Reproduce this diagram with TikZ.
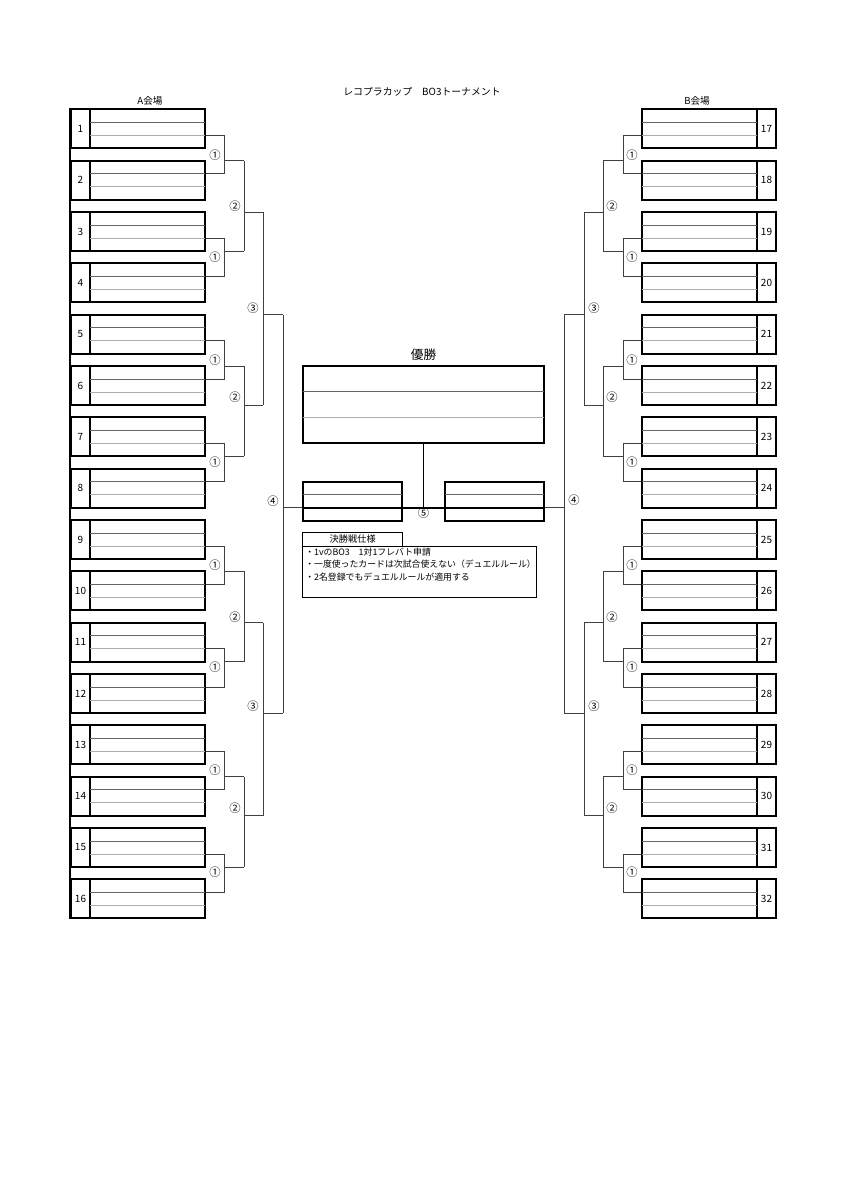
\documentclass[tikz,border=0pt]{standalone}
\usepackage{fontspec}
\newfontfamily\jp{Noto Sans CJK JP}
\newcommand\jpfs[1]{\jp\fontsize{#1}{#1}\selectfont}
\begin{document}
\begin{tikzpicture}[x=0.75pt,y=-0.75pt,
  boxline/.style={draw=black,line width=1.4pt},
  numcell/.style={boxline,rectangle,minimum width=14.25pt,minimum height=29.25pt,inner sep=0pt,font=\jpfs{7.5}},
  namecell/.style={boxline,rectangle,minimum width=86.25pt,minimum height=29.25pt,inner sep=0pt},
  divA/.style={draw=black!60,line width=0.6pt},
  divB/.style={draw=black!32,line width=0.6pt},
  wire/.style={draw=black!75,line width=0.6pt},
  rlabel/.style={inner sep=0pt,font=\jpfs{8.5}},
  ttl/.style={inner sep=0pt,font=\jpfs{7.4}},
  note/.style={inner sep=0pt,anchor=west,font=\jpfs{6.65}}]
\useasboundingbox (0,0) rectangle (848,1200);

% titles
\node[ttl] (title) at (422,92) {レコプラカップ　BO3トーナメント};
\node[ttl,font=\jpfs{7.2}] (venueA) at (150,101) {A会場};
\node[ttl,font=\jpfs{7.2}] (venueB) at (697,101) {B会場};

% entry boxes
\foreach \i in {1,...,16}{
  \pgfmathsetmacro\T{109.3+(\i-1)*51.333}
  \node[numcell] (Ln\i) at (80.5,\T+19.5) {\i};
  \node[namecell] (La\i) at (147.5,\T+19.5) {};
  \draw[divA] (90,\T+13) -- (205,\T+13);
  \draw[divB] (90,\T+26) -- (205,\T+26);
}
\foreach \i in {17,...,32}{
  \pgfmathsetmacro\T{109.3+(\i-17)*51.333}
  \node[numcell] (Rn\i) at (766.5,\T+19.5) {\i};
  \node[namecell] (Ra\i) at (699.5,\T+19.5) {};
  \draw[divA] (642,\T+13) -- (757,\T+13);
  \draw[divB] (642,\T+26) -- (757,\T+26);
}
\draw[boxline] (Ln1.north west) -- (Ln16.south west);

% round 1
\foreach \k in {1,...,8}{
  \pgfmathtruncatemacro\a{2*\k-1}
  \pgfmathtruncatemacro\b{2*\k}
  \pgfmathtruncatemacro\ra{2*\k+15}
  \pgfmathtruncatemacro\rb{2*\k+16}
  \pgfmathsetmacro\Ta{109.3+(2*\k-2)*51.333}
  \pgfmathsetmacro\Tb{\Ta+51.333}
  \pgfmathsetmacro\yo{ifthenelse(isodd(\k),\Tb,\Ta+39)}
  \coordinate (P1L\k) at (244,\yo);
  \coordinate (P1R\k) at (603,\yo);
  \draw[wire] ([yshift=-4.875pt]La\a.east) -- (224,\Ta+26) -- (224,\Tb+13) -- ([yshift=4.875pt]La\b.east);
  \draw[wire] (224,\yo) -- (P1L\k);
  \draw[wire] ([yshift=-4.875pt]Ra\ra.west) -- (623,\Ta+26) -- (623,\Tb+13) -- ([yshift=4.875pt]Ra\rb.west);
  \draw[wire] (623,\yo) -- (P1R\k);
}
% round 2
\foreach \m in {1,...,4}{
  \pgfmathtruncatemacro\p{2*\m-1}
  \pgfmathtruncatemacro\q{2*\m}
  \pgfmathsetmacro\yo{ifthenelse(isodd(\m),109.3+(4*\m-2)*51.333,109.3+(4*\m-3)*51.333+39)}
  \coordinate (P2L\m) at (263,\yo);
  \coordinate (P2R\m) at (584,\yo);
  \draw[wire] (P1L\p) -- (P1L\q);
  \draw[wire] (P1L\p |- P2L\m) -- (P2L\m);
  \draw[wire] (P1R\p) -- (P1R\q);
  \draw[wire] (P1R\p |- P2R\m) -- (P2R\m);
}
% round 3
\coordinate (P3L1) at (283,314.63);
\coordinate (P3L2) at (283,713.0);
\coordinate (P3R1) at (564,314.63);
\coordinate (P3R2) at (564,713.0);
\draw[wire] (P2L1) -- (P2L2);
\draw[wire] (P2L1 |- P3L1) -- (P3L1);
\draw[wire] (P2L3) -- (P2L4);
\draw[wire] (P2L3 |- P3L2) -- (P3L2);
\draw[wire] (P2R1) -- (P2R2);
\draw[wire] (P2R1 |- P3R1) -- (P3R1);
\draw[wire] (P2R3) -- (P2R4);
\draw[wire] (P2R3 |- P3R2) -- (P3R2);
% round 4
\draw[wire] (P3L1) -- (P3L2);
\draw[wire] (P3R1) -- (P3R2);
\coordinate (F4L) at (283,507.63);
\coordinate (F4R) at (564,507.63);

% final area
\node[ttl,font=\jpfs{9.5}] (wintitle) at (423.5,355) {優勝};
\node[boxline,rectangle,minimum width=181.2pt,minimum height=57.75pt,inner sep=0pt] (W) at (423.5,404.2) {};
\draw[divA] (302.7,391.5) -- (544.3,391.5);
\draw[divB] (302.7,417.2) -- (544.3,417.2);
\node[boxline,rectangle,minimum width=74.25pt,minimum height=29.25pt,inner sep=0pt] (SFL) at (352.2,501.13) {};
\node[boxline,rectangle,minimum width=74.25pt,minimum height=29.25pt,inner sep=0pt] (SFR) at (494.8,501.13) {};
\draw[divA] (302.7,494.63) -- (401.7,494.63);
\draw[divA] (445.3,494.63) -- (544.3,494.63);
\draw[wire] (F4L) -- (F4L -| SFL.west);
\draw[wire] (F4R) -- (F4R -| SFR.east);
\draw[boxline] (F4L -| SFL.west) -- (F4R -| SFR.east);
\draw[boxline] (W.south) -- (W.south |- F4L);
\node[rlabel] (l5) at (423.5,513.5) {⑤};

% round labels
\foreach \y [count=\c] in {155,257,360,462,565,667,770,872}{
  \node[rlabel] (l1L\c) at (215,\y) {①};
  \node[rlabel] (l1R\c) at (632,\y) {①};
}
\foreach \y [count=\c] in {206,397,617,808}{
  \node[rlabel] (l2L\c) at (235,\y) {②};
  \node[rlabel] (l2R\c) at (612,\y) {②};
}
\foreach \y [count=\c] in {308,706}{
  \node[rlabel] (l3L\c) at (253,\y) {③};
  \node[rlabel] (l3R\c) at (594,\y) {③};
}
\node[rlabel] (l4L) at (273,501.5) {④};
\node[rlabel] (l4R) at (574,500.5) {④};

% notes
\node[draw=black,line width=0.7pt,rectangle,minimum width=75pt,minimum height=10pt,inner sep=0pt,font=\jpfs{6.9}] (NT) at (352.7,539.35) {決勝戦仕様};
\node[draw=black,line width=0.7pt,rectangle,minimum width=175pt,minimum height=38.5pt,inner sep=0pt] (NB) at (419.35,571.65) {};
\node[note] (n1) at (305,552.3) {・1vのBO3　1対1フレバト申請};
\node[note] (n2) at (305,564.4) {・一度使ったカードは次試合使えない（デュエルルール）};
\node[note] (n3) at (305,576.7) {・2名登録でもデュエルルールが適用する};
\end{tikzpicture}
\end{document}
